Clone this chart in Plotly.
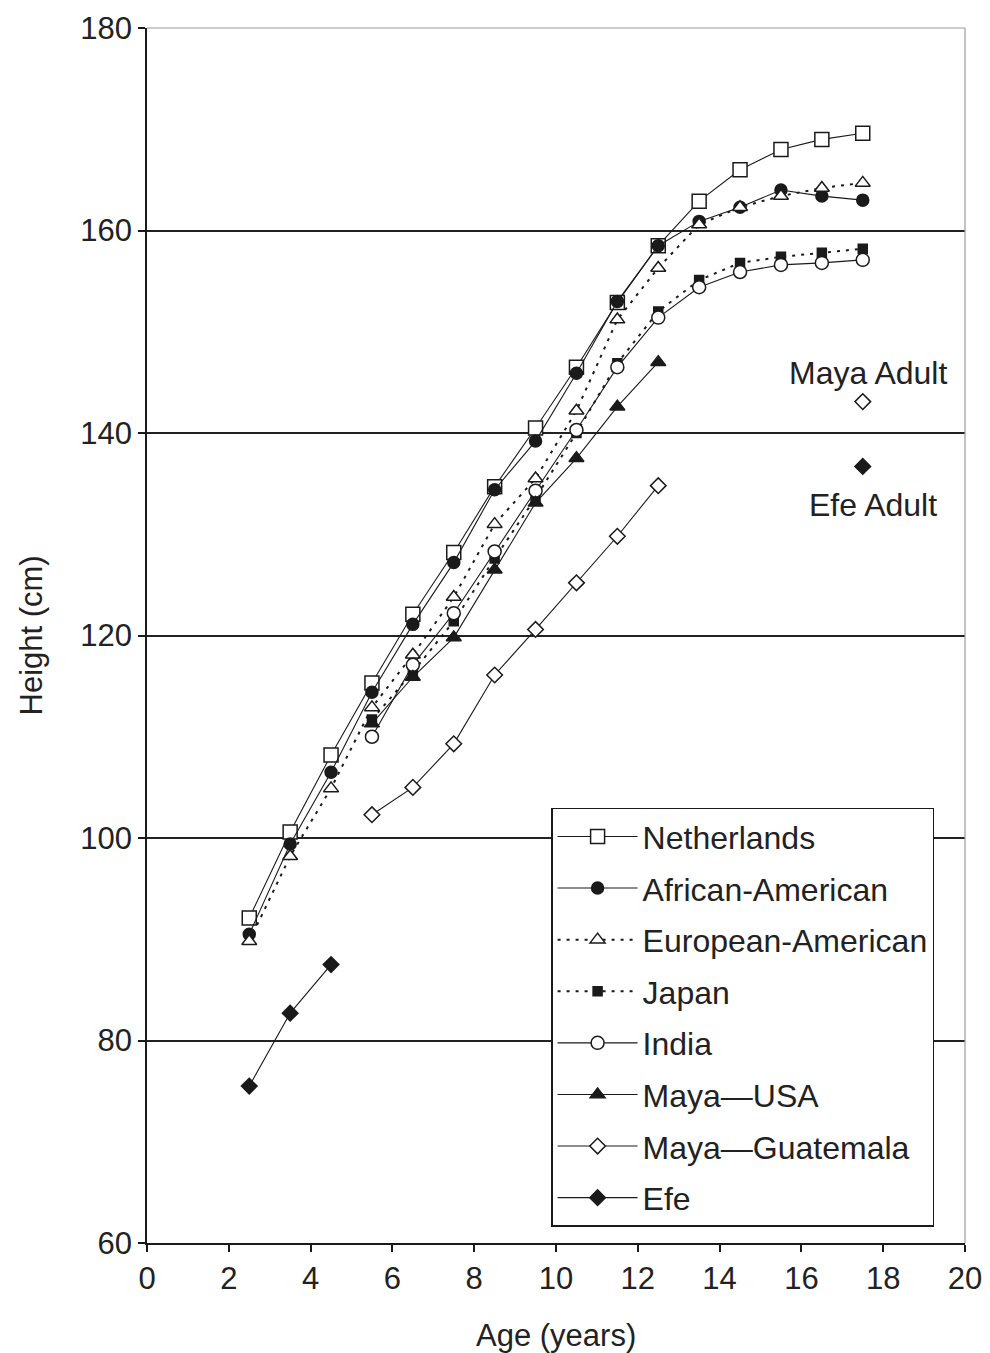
import plotly.graph_objects as go

ages_full = [2.5, 3.5, 4.5, 5.5, 6.5, 7.5, 8.5, 9.5, 10.5, 11.5, 12.5, 13.5, 14.5, 15.5, 16.5, 17.5]
ages_from5 = [5.5, 6.5, 7.5, 8.5, 9.5, 10.5, 11.5, 12.5, 13.5, 14.5, 15.5, 16.5, 17.5]
ages_maya = [5.5, 6.5, 7.5, 8.5, 9.5, 10.5, 11.5, 12.5]
ages_efe = [2.5, 3.5, 4.5]

netherlands = [92.1, 100.6, 108.2, 115.3, 122.1, 128.2, 134.7, 140.5, 146.5, 152.9, 158.5, 162.9, 166.0, 168.0, 169.0, 169.6]
african_american = [90.5, 99.4, 106.5, 114.4, 121.1, 127.2, 134.4, 139.2, 145.9, 153.0, 158.5, 160.9, 162.3, 164.0, 163.4, 163.0]
european_american = [89.8, 98.2, 104.9, 112.9, 118.1, 123.8, 131.0, 135.5, 142.2, 151.2, 156.3, 160.6, 162.3, 163.4, 164.2, 164.7]
japan = [111.7, 116.4, 121.4, 127.6, 133.6, 140.0, 146.9, 152.0, 155.1, 156.8, 157.4, 157.8, 158.2]
india = [110.0, 117.1, 122.2, 128.3, 134.3, 140.3, 146.5, 151.4, 154.4, 155.9, 156.6, 156.8, 157.1]
maya_usa = [111.3, 115.9, 119.8, 126.5, 133.1, 137.5, 142.6, 147.0]
maya_guatemala = [102.3, 105.0, 109.3, 116.1, 120.6, 125.2, 129.8, 134.8]
efe = [75.5, 82.7, 87.5]

adult_age = [17.5]
maya_adult = [143.1]
efe_adult = [136.7]

x_ticks = [0, 2, 4, 6, 8, 10, 12, 14, 16, 18, 20]
y_ticks = [60, 80, 100, 120, 140, 160, 180]

FONT = "Liberation Sans, Arial, sans-serif"
BLACK = "#1a1a1a"
TXT = "#222"
FS = 31
FL = 32

fig = go.Figure()

def add(name, x, y, symbol, fill, size, dash=None):
    fig.add_trace(go.Scatter(
        x=x, y=y, name=name, mode="lines+markers",
        legendgroup=name,
        line=dict(color=BLACK, width=2 if dash else 1.1, dash=dash or "solid"),
        marker=dict(symbol=symbol, size=size, color=fill,
                    line=dict(color=BLACK, width=1.5)),
    ))

add("Netherlands", ages_full, netherlands, "square", "white", 14)
add("African-American", ages_full, african_american, "circle", BLACK, 12)
add("European-American", ages_full, european_american, "triangle-up", "white", 13, dash="3px,6px")
add("Japan", ages_from5, japan, "square", BLACK, 9, dash="3px,6px")
add("India", ages_from5, india, "circle", "white", 13)
add("Maya\u2014USA", ages_maya, maya_usa, "triangle-up", BLACK, 13)
add("Maya\u2014Guatemala", ages_maya, maya_guatemala, "diamond", "white", 12)
add("Efe", ages_efe, efe, "diamond", BLACK, 12)

fig.add_trace(go.Scatter(x=adult_age, y=maya_adult, mode="markers", showlegend=False,
                         marker=dict(symbol="diamond", size=12, color="white",
                                     line=dict(color=BLACK, width=1.5))))
fig.add_trace(go.Scatter(x=adult_age, y=efe_adult, mode="markers", showlegend=False,
                         marker=dict(symbol="diamond", size=12, color=BLACK,
                                     line=dict(color=BLACK, width=1.5))))

fig.add_annotation(x=17.63, y=145.9, text="Maya Adult", showarrow=False,
                   font=dict(family=FONT, size=FL, color=TXT))
fig.add_annotation(x=17.75, y=132.9, text="Efe Adult", showarrow=False,
                   font=dict(family=FONT, size=FL, color=TXT))

# axis titles
fig.add_annotation(xref="paper", yref="paper", x=0.5, y=0, yshift=-92,
                   xanchor="center", yanchor="middle", showarrow=False,
                   text="Age (years)", font=dict(family=FONT, size=FS, color=TXT))
fig.add_annotation(xref="paper", yref="paper", x=0, y=0.5, xshift=-116,
                   xanchor="center", yanchor="middle", showarrow=False, textangle=-90,
                   text="Height (cm)", font=dict(family=FONT, size=FS, color=TXT))

# top and right frame (light)
fig.add_shape(type="line", xref="paper", yref="paper", x0=0, x1=1, y0=1, y1=1,
              line=dict(color="#9a9a9a", width=1.2))
fig.add_shape(type="line", xref="paper", yref="paper", x0=1, x1=1, y0=0, y1=1,
              line=dict(color="#9a9a9a", width=1.2))

fig.update_layout(
    width=982, height=1345,
    margin=dict(l=139, r=25, t=20, b=110),
    paper_bgcolor="white", plot_bgcolor="white",
    font=dict(family=FONT, size=FS, color=TXT),
    showlegend=True,
    legend=dict(
        x=0.494, y=0.3583, xanchor="left", yanchor="top",
        bgcolor="white", bordercolor=BLACK, borderwidth=1.5,
        font=dict(family=FONT, size=FL, color=TXT),
        tracegroupgap=7, itemwidth=80,
    ),
    xaxis=dict(
        range=[0, 20], tickvals=x_ticks, showgrid=False, zeroline=False,
        showline=True, linecolor=BLACK, linewidth=1.5, automargin=False,
        ticks="outside", ticklen=7, tickwidth=1.5, tickcolor=BLACK,
    ),
    yaxis=dict(
        range=[60, 180], tickvals=y_ticks, showgrid=True, gridcolor="#222", gridwidth=1.5,
        zeroline=False, showline=True, linecolor=BLACK, linewidth=1.5, automargin=False,
        ticks="outside", ticklen=7, tickwidth=1.5, tickcolor=BLACK,
    ),
)

fig.write_html("out.html")
